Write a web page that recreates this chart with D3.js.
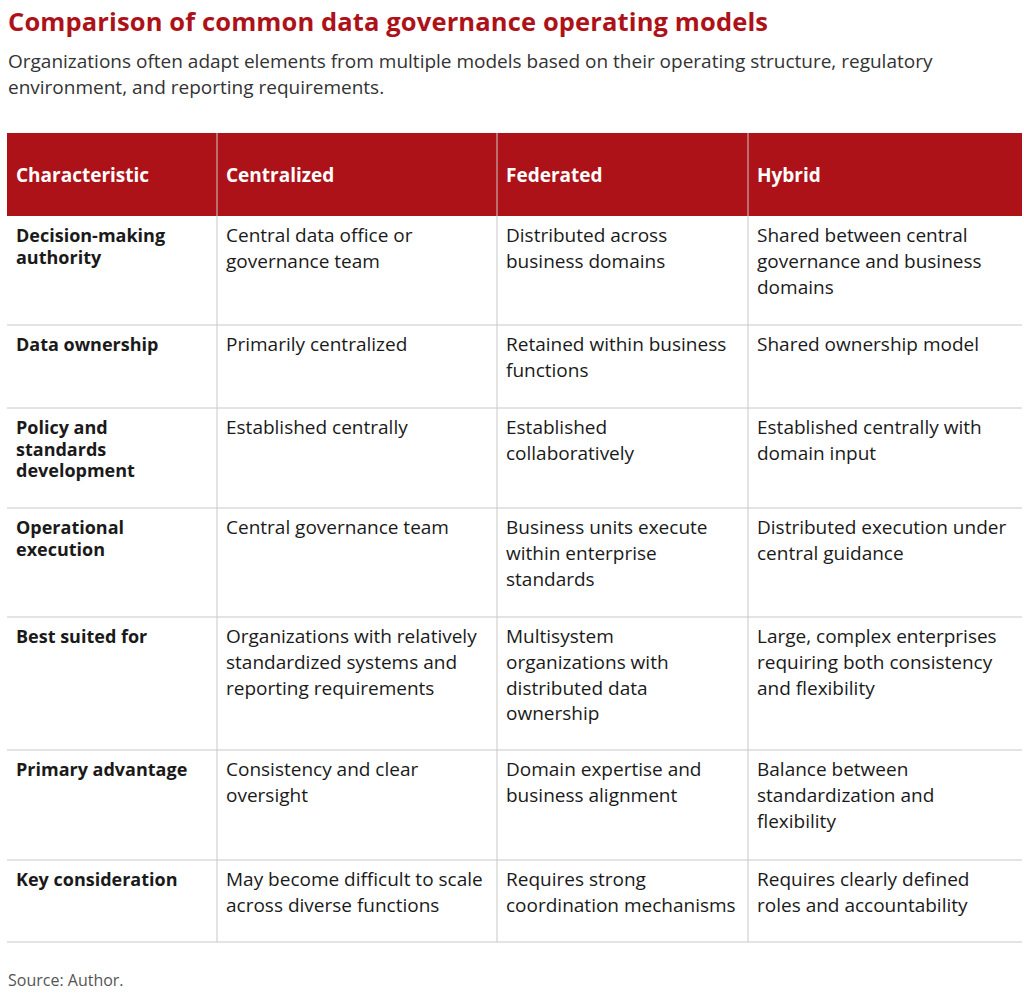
<!DOCTYPE html>
<html>
<head>
<meta charset="utf-8">
<script src="https://cdn.jsdelivr.net/npm/d3@7"></script>
<style>
  body { margin: 0; background: #fff; }
  text { font-family: "Open Sans", "Noto Sans", sans-serif; }
</style>
</head>
<body>
<script>
// data
const columns = ["Characteristic", "Centralized", "Federated", "Hybrid"];
const characteristics = [
  "Decision-making\nauthority", "Data ownership", "Policy and\nstandards\ndevelopment",
  "Operational\nexecution", "Best suited for", "Primary advantage", "Key consideration"];
const centralized = [
  "Central data office or\ngovernance team", "Primarily centralized", "Established centrally",
  "Central governance team",
  "Organizations with relatively\nstandardized systems and\nreporting requirements",
  "Consistency and clear\noversight", "May become difficult to scale\nacross diverse functions"];
const federated = [
  "Distributed across\nbusiness domains", "Retained within business\nfunctions",
  "Established\ncollaboratively", "Business units execute\nwithin enterprise\nstandards",
  "Multisystem\norganizations with\ndistributed data\nownership",
  "Domain expertise and\nbusiness alignment", "Requires strong\ncoordination mechanisms"];
const hybrid = [
  "Shared between central\ngovernance and business\ndomains", "Shared ownership model",
  "Established centrally with\ndomain input", "Distributed execution under\ncentral guidance",
  "Large, complex enterprises\nrequiring both consistency\nand flexibility",
  "Balance between\nstandardization and\nflexibility", "Requires clearly defined\nroles and accountability"];

const W = 1024, H = 1005;
const red = "#ae1219";
const colEdges = [7, 217, 497, 748, 1022];
const rowEdges = [216, 325, 408, 508, 617, 750, 860, 942];
const x = d3.scaleOrdinal().domain(columns).range(colEdges.slice(0, 4));
const rowIdx = d3.range(characteristics.length);
const y = d3.scaleOrdinal().domain(rowIdx).range(rowEdges.slice(0, 7));

const svg = d3.select("body").append("svg").attr("width", W).attr("height", H);

svg.append("text").attr("x", 8).attr("y", 31).attr("fill", red)
  .attr("font-size", 25.5).attr("font-weight", 700).attr("textLength", 760)
  .text("Comparison of common data governance operating models");
const sub = ["Organizations often adapt elements from multiple models based on their operating structure, regulatory",
  "environment, and reporting requirements."];
svg.selectAll("text.sub").data(sub).enter().append("text").attr("class", "sub")
  .attr("x", 8).attr("y", (d, i) => 68 + i * 26).attr("fill", "#333").attr("font-size", 19).text(d => d);

// header
svg.append("rect").attr("x", 7).attr("y", 133).attr("width", 1015).attr("height", 83).attr("fill", red);
svg.selectAll("text.hd").data(columns).enter().append("text").attr("class", "hd")
  .attr("x", d => x(d) + 9).attr("y", 182).attr("fill", "#fff")
  .attr("font-size", 19).attr("font-weight", 700).text(d => d);

// grid
svg.selectAll("line.h").data(rowEdges.slice(1)).enter().append("line").attr("class", "h")
  .attr("x1", 7).attr("x2", 1022).attr("y1", d => d).attr("y2", d => d)
  .attr("stroke", "#c8c8c8").attr("stroke-width", 1);
svg.selectAll("line.v").data(colEdges.slice(1, 4)).enter().append("line").attr("class", "v")
  .attr("x1", d => d).attr("x2", d => d).attr("y1", 133).attr("y2", 942)
  .attr("stroke", "#c8c8c8").attr("stroke-width", 1);

const series = [characteristics, centralized, federated, hybrid];
series.forEach((vals, c) => {
  svg.selectAll("text.c" + c).data(vals).enter().append("text").attr("class", "c" + c)
    .attr("fill", "#1a1a1a").attr("font-size", c === 0 ? 18 : 19)
    .attr("font-weight", c === 0 ? 700 : 400)
    .each(function(d, i) {
      const lines = d.split("\n");
      const lh = c === 0 ? 21.5 : 25.8;
      d3.select(this).selectAll("tspan").data(lines).enter().append("tspan")
        .attr("x", x(columns[c]) + 9)
        .attr("y", (l, k) => y(i) + 26 + k * lh)
        .text(l => l);
    });
});

svg.append("text").attr("x", 8).attr("y", 986).attr("fill", "#555").attr("font-size", 16).text("Source: Author.");
</script>
</body>
</html>
